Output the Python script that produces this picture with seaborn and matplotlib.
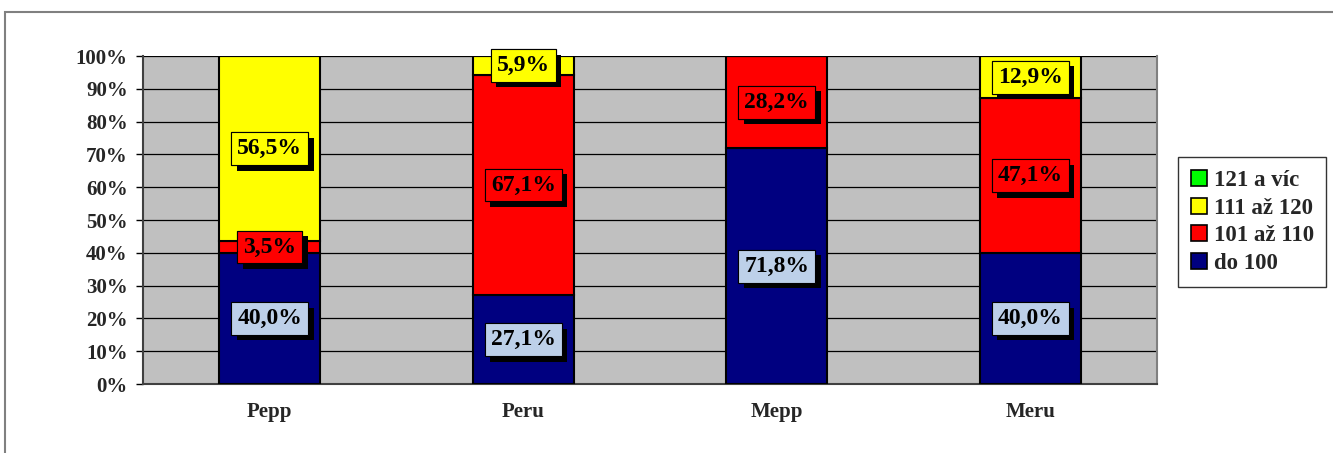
import numpy as np
import pandas as pd
import seaborn as sns
import matplotlib.pyplot as plt
import matplotlib.patheffects as pe
from matplotlib.patches import Rectangle, Patch

# Data (shares in %)
groups = ['Pepp', 'Peru', 'Mepp', 'Meru']
do_100 = [40.0, 27.1, 71.8, 40.0]
od_101_110 = [3.5, 67.1, 28.2, 47.1]
od_111_120 = [56.5, 5.9, 0.0, 12.9]
nad_121 = [0.0, 0.0, 0.0, 0.0]

series = ['do 100', '101 až 110', '111 až 120', '121 a víc']
values = [do_100, od_101_110, od_111_120, nad_121]
colors = ['#000080', '#FF0000', '#FFFF00', '#00FF00']
label_bg = ['#BDD0E9', '#FF0000', '#FFFF00', '#00FF00']

df = pd.DataFrame({'group': groups})
for name, vals in zip(series, values):
    df[name] = vals

sns.set_style('white')
plt.rcParams['font.family'] = ['Liberation Serif', 'DejaVu Serif']
plt.rcParams['font.weight'] = 'bold'

fig = plt.figure(figsize=(13.33, 4.53), dpi=100)
ax = fig.add_axes([143 / 1333, 69 / 453, 1014 / 1333, 328 / 453])
ax.set_facecolor('#C0C0C0')

# outer chart frame (only left and top visible)
fig.patches.append(Rectangle((5 / 1333, -0.1), 1.2, (441 / 453) + 0.1,
                             transform=fig.transFigure, fill=False,
                             edgecolor='#808080', linewidth=1.5, zorder=0))

bottom = np.zeros(len(groups))
for name, col in zip(series, colors):
    sns.barplot(data=df, x='group', y=name, color=col, width=0.4,
                bottom=bottom, edgecolor='black', linewidth=1.5,
                ax=ax, zorder=3, saturation=1)
    bottom = bottom + df[name].values

# data labels with drop shadow
shadow = [pe.withSimplePatchShadow(offset=(4, -4), shadow_rgbFace='black', alpha=1.0),
          pe.Normal()]
bottom = np.zeros(len(groups))
for name, bg in zip(series, label_bg):
    vals = df[name].values
    for i, v in enumerate(vals):
        if v <= 0:
            continue
        y = bottom[i] + v / 2
        txt = f'{v:.1f}%'.replace('.', ',')
        t = ax.text(i, y, txt, ha='center', va='center', fontsize=17,
                    color='black', fontweight='bold', zorder=6,
                    bbox=dict(boxstyle='square,pad=0.25', fc=bg, ec='black', lw=0.8))
        t.get_bbox_patch().set_path_effects(shadow)
    bottom = bottom + vals

ax.set_ylim(0, 100)
ax.set_xlim(-0.5, len(groups) - 0.5)
ax.set_yticks(np.arange(0, 101, 10))
ax.set_yticklabels([f'{t}%' for t in range(0, 101, 10)], fontsize=15, fontweight='bold')
ax.yaxis.grid(True, color='black', linewidth=0.9)
ax.set_axisbelow(True)
ax.set_xticks(range(len(groups)))
ax.set_xticklabels(groups, fontsize=15, fontweight='bold')
ax.set_xticks(np.arange(-0.5, len(groups), 1), minor=True)
ax.tick_params(axis='x', which='major', length=0, pad=13)
ax.tick_params(axis='x', which='minor', length=5, width=1, color='black', direction='out')
ax.tick_params(axis='y', length=5, width=1, color='black', direction='out', left=True, pad=6)
ax.set_xlabel('')
ax.set_ylabel('')
for side in ['left', 'bottom']:
    ax.spines[side].set_color('#404040')
    ax.spines[side].set_linewidth(1.5)
ax.spines['top'].set_visible(False)
ax.spines['right'].set_color('#808080')
ax.spines['right'].set_linewidth(1.5)

# legend, reversed order
handles = [Patch(facecolor=c, edgecolor='black', linewidth=1.2) for c in colors]
leg = fig.legend(handles[::-1], series[::-1], loc='upper left',
                 bbox_to_anchor=(1178 / 1333, 1 - 157 / 453),
                 frameon=True, fancybox=False, edgecolor='black',
                 prop={'size': 16.5, 'weight': 'bold'},
                 handlelength=0.7, handleheight=0.7, handletextpad=0.3,
                 borderpad=0.55, labelspacing=0.3, borderaxespad=0)
leg.get_frame().set_linewidth(1.0)

fig.savefig('out.png', dpi=100)
